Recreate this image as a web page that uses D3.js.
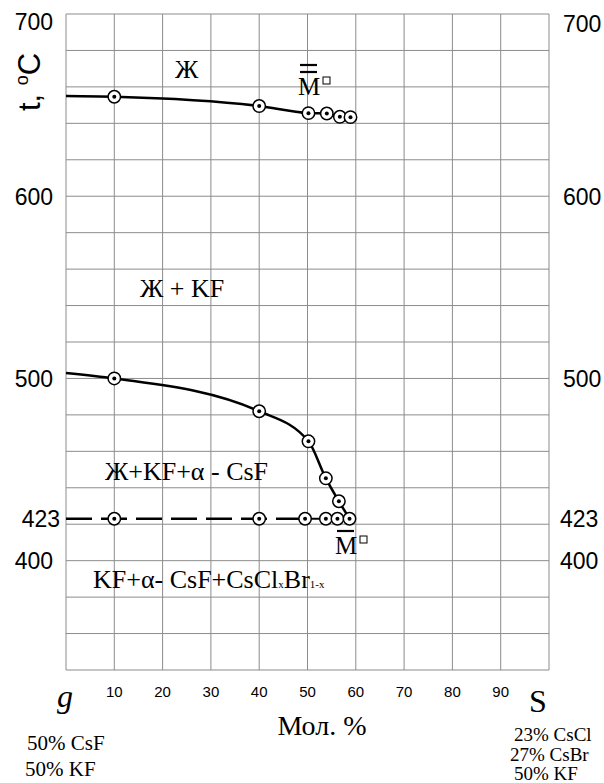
<!DOCTYPE html>
<html>
<head>
<meta charset="utf-8">
<script src="https://cdn.jsdelivr.net/npm/d3@7"></script>
<style>
  body { margin: 0; background: #fff; }
  .sans { font-family: "Liberation Sans", Arial, sans-serif; }
  .serif { font-family: "Liberation Serif", "Times New Roman", serif; }
</style>
</head>
<body>
<div id="chart"></div>
<script>
// liquidus Ж / Ж+KF
const liqX = [0, 10, 40, 50.2, 54, 56.7, 58.9];
const liqT = [655, 654.6, 649.5, 645.6, 645.4, 643.6, 643.4];

// KF primary crystallisation curve
const kfX = [0, 10, 40, 50.2, 53.8, 56.5, 58.7];
const kfT = [503, 500, 482, 465.5, 445.2, 432.6, 423];

// eutectic line, 423 C
const eutX = [10, 40, 49.5, 53.8, 56.2, 58.7];
const eutT = 423;

const xTicks = [10, 20, 30, 40, 50, 60, 70, 80, 90];
const yLabels = [700, 600, 500, 423, 400];

const width = 604, height = 783;
const margin = {top: 14, right: 55, bottom: 113, left: 66};

const svg = d3.select("#chart").append("svg")
    .attr("width", width)
    .attr("height", height);

const x = d3.scaleLinear().domain([0, 100]).range([margin.left, width - margin.right]);
const y = d3.scaleLinear().domain([340, 700]).range([height - margin.bottom, margin.top]);

// grid
const grid = svg.append("g").attr("stroke", "#8c8c8c").attr("stroke-width", 1);
grid.selectAll(".vg")
    .data(d3.range(0, 101, 10))
    .enter().append("line")
    .attr("x1", d => x(d)).attr("x2", d => x(d))
    .attr("y1", y(340)).attr("y2", y(700));
grid.selectAll(".hg")
    .data(d3.range(340, 701, 20))
    .enter().append("line")
    .attr("x1", x(0)).attr("x2", x(100))
    .attr("y1", d => y(d)).attr("y2", d => y(d));

// y labels, both sides
svg.selectAll(".yl")
    .data(yLabels)
    .enter().append("text")
    .attr("class", "sans")
    .attr("x", d => d === 423 ? 60 : 53)
    .attr("y", d => y(d) + (d === 700 ? 8 : 0))
    .attr("dy", "0.36em")
    .attr("text-anchor", "end")
    .attr("font-size", 23)
    .text(d => d);
svg.selectAll(".yr")
    .data(yLabels)
    .enter().append("text")
    .attr("class", "sans")
    .attr("x", d => d === 423 || d === 400 ? 560 : 563)
    .attr("y", d => y(d) + (d === 700 ? 10 : 0))
    .attr("dy", "0.36em")
    .attr("text-anchor", "start")
    .attr("font-size", 23)
    .text(d => d);

// x tick labels
svg.selectAll(".xl")
    .data(xTicks)
    .enter().append("text")
    .attr("class", "sans")
    .attr("x", d => x(d))
    .attr("y", 692)
    .attr("dy", "0.36em")
    .attr("text-anchor", "middle")
    .attr("font-size", 15)
    .text(d => d);

// y title
const yt = svg.append("text")
    .attr("class", "sans")
    .attr("transform", "translate(40,111) rotate(-90)")
    .attr("font-size", 31);
yt.append("tspan").text("t, ");
yt.append("tspan").attr("font-size", 18).attr("dy", -12).text("o");
yt.append("tspan").attr("dy", 12).text("C");

// curves
const line = d3.line()
    .x(d => x(d[0]))
    .y(d => y(d[1]))
    .curve(d3.curveMonotoneX);

const liqData = liqX.map((v, i) => [v, liqT[i]]);
const kfData = kfX.map((v, i) => [v, kfT[i]]);

svg.append("path")
    .datum(liqData)
    .attr("d", line)
    .attr("fill", "none")
    .attr("stroke", "#000")
    .attr("stroke-width", 2.5);

svg.append("path")
    .datum(kfData)
    .attr("d", line)
    .attr("fill", "none")
    .attr("stroke", "#000")
    .attr("stroke-width", 2.5);

// eutectic: dashed up to first point after 40, solid after
svg.append("line")
    .attr("x1", x(0)).attr("x2", x(eutX[2]))
    .attr("y1", y(eutT)).attr("y2", y(eutT))
    .attr("stroke", "#000")
    .attr("stroke-width", 2.5)
    .attr("stroke-dasharray", "26 9");
svg.append("line")
    .attr("x1", x(eutX[2])).attr("x2", x(eutX[eutX.length - 1]))
    .attr("y1", y(eutT)).attr("y2", y(eutT))
    .attr("stroke", "#000")
    .attr("stroke-width", 2);

// points
const pts = liqData.slice(1)
    .concat(kfData.slice(1, -1))
    .concat(eutX.map(v => [v, eutT]));

const pg = svg.append("g");
pg.selectAll(".pt")
    .data(pts)
    .enter().append("circle")
    .attr("cx", d => x(d[0]))
    .attr("cy", d => y(d[1]))
    .attr("r", 6.2)
    .attr("fill", "#fff")
    .attr("stroke", "#000")
    .attr("stroke-width", 1.5);
pg.selectAll(".dot")
    .data(pts)
    .enter().append("circle")
    .attr("cx", d => x(d[0]))
    .attr("cy", d => y(d[1]))
    .attr("r", 2)
    .attr("fill", "#000");

// phase region labels
function label(tx, ty, s, size) {
    return svg.append("text")
        .attr("class", "serif")
        .attr("x", tx).attr("y", ty)
        .attr("font-size", size || 26)
        .text(s);
}
label(175, 78, "Ж");
label(140, 297, "Ж + KF");
label(105, 480, "Ж+KF+α - CsF");
const t4 = label(93, 588, "KF+α- CsF+CsCl");
t4.append("tspan").attr("font-size", 11).text("x");
t4.append("tspan").text("Br");
t4.append("tspan").attr("font-size", 11).text("1-x");

// M points with bars
function mark(mx, my, bars) {
    svg.append("text")
        .attr("class", "serif")
        .attr("x", mx).attr("y", my)
        .attr("font-size", 25)
        .text("M");
    for (let i = 0; i < bars; i++) {
        svg.append("line")
            .attr("x1", mx + 2).attr("x2", mx + 19)
            .attr("y1", my - 23 - i * 7).attr("y2", my - 23 - i * 7)
            .attr("stroke", "#000").attr("stroke-width", 2.2);
    }
    svg.append("rect")
        .attr("x", mx + 25).attr("y", my - 18)
        .attr("width", 7).attr("height", 7)
        .attr("fill", "none").attr("stroke", "#000").attr("stroke-width", 1);
}
mark(298, 95, 2);
mark(335, 554, 1);

// composition ends
svg.append("text").attr("class", "serif")
    .attr("x", 57).attr("y", 707)
    .attr("font-size", 32).attr("font-style", "italic")
    .text("g");
svg.append("text").attr("class", "serif")
    .attr("x", 529).attr("y", 712)
    .attr("font-size", 32)
    .text("S");
svg.append("text").attr("class", "serif")
    .attr("x", 322).attr("y", 735)
    .attr("text-anchor", "middle")
    .attr("font-size", 28)
    .text("Мол. %");

const leftComp = ["50% CsF", "50% KF"];
const rightComp = ["23% CsCl", "27% CsBr", "50% KF"];
svg.selectAll(".lc")
    .data(leftComp)
    .enter().append("text")
    .attr("class", "serif")
    .attr("x", (d, i) => i === 0 ? 27 : 25)
    .attr("y", (d, i) => 750 + i * 26)
    .attr("font-size", 21)
    .text(d => d);
svg.selectAll(".rc")
    .data(rightComp)
    .enter().append("text")
    .attr("class", "serif")
    .attr("x", (d, i) => i === 1 ? 510 : 514)
    .attr("y", (d, i) => 741 + i * 19.5)
    .attr("font-size", 19)
    .text(d => d);
</script>
</body>
</html>
